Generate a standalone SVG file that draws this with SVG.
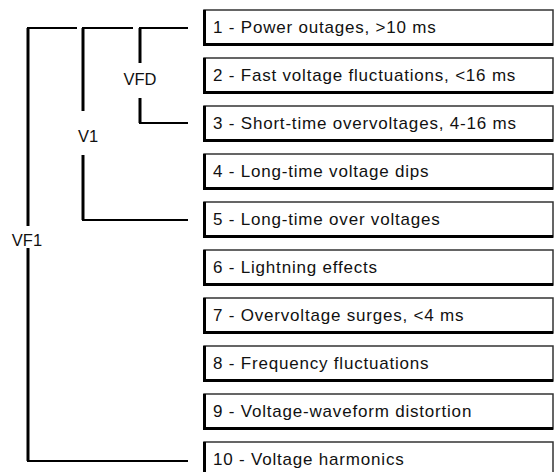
<svg xmlns="http://www.w3.org/2000/svg" width="555" height="472" viewBox="0 0 555 472">
<style>
.box rect{fill:#fff;stroke:#333;stroke-width:1.5}
.box path{fill:none;stroke:#000;stroke-width:3}
.box text{font-family:"Liberation Sans",Arial,sans-serif;font-size:17px;letter-spacing:0.8px;fill:#111}
.lbl{font-family:"Liberation Sans",Arial,sans-serif;font-size:16.5px;fill:#111;text-anchor:middle}
.conn path{fill:none;stroke:#000;stroke-width:3}
.conn path.h{stroke-width:2.2}
</style>
<rect width="555" height="472" fill="#fff"/>
<g class="conn" id="connectors">
<path d="M28,226 V28"/><path d="M28,248 V461"/>
<path class="h" d="M27,28 H77"/><path class="h" d="M27,461 H188"/>
<path d="M83,111 V28"/><path d="M83,155 V220"/>
<path class="h" d="M82,28 H133"/><path class="h" d="M82,220 H188"/>
<path d="M140,63 V28"/><path d="M140,98 V123"/>
<path class="h" d="M139,28 H188"/><path class="h" d="M139,123 H188"/>
</g>
<g id="VF1"><text class="lbl" x="27" y="246">VF1</text></g>
<g id="V1"><text class="lbl" x="88" y="142">V1</text></g>
<g id="VFD"><text class="lbl" x="140" y="85">VFD</text></g>
<g class="box" id="n1"><rect x="204" y="10" width="349" height="35"/><path d="M204.5,10 V46 M203,44.5 H553"/><text x="213" y="33">1 - Power outages, &gt;10 ms</text></g>
<g class="box" id="n2"><rect x="204" y="58" width="349" height="35"/><path d="M204.5,58 V94 M203,92.5 H553"/><text x="213" y="81">2 - Fast voltage fluctuations, &lt;16 ms</text></g>
<g class="box" id="n3"><rect x="204" y="106" width="349" height="35"/><path d="M204.5,106 V142 M203,140.5 H553"/><text x="213" y="129">3 - Short-time overvoltages, 4-16 ms</text></g>
<g class="box" id="n4"><rect x="204" y="154" width="349" height="35"/><path d="M204.5,154 V190 M203,188.5 H553"/><text x="213" y="177">4 - Long-time voltage dips</text></g>
<g class="box" id="n5"><rect x="204" y="202" width="349" height="35"/><path d="M204.5,202 V238 M203,236.5 H553"/><text x="213" y="225">5 - Long-time over voltages</text></g>
<g class="box" id="n6"><rect x="204" y="250" width="349" height="35"/><path d="M204.5,250 V286 M203,284.5 H553"/><text x="213" y="273">6 - Lightning effects</text></g>
<g class="box" id="n7"><rect x="204" y="298" width="349" height="35"/><path d="M204.5,298 V334 M203,332.5 H553"/><text x="213" y="321">7 - Overvoltage surges, &lt;4 ms</text></g>
<g class="box" id="n8"><rect x="204" y="346" width="349" height="35"/><path d="M204.5,346 V382 M203,380.5 H553"/><text x="213" y="369">8 - Frequency fluctuations</text></g>
<g class="box" id="n9"><rect x="204" y="394" width="349" height="35"/><path d="M204.5,394 V430 M203,428.5 H553"/><text x="213" y="417">9 - Voltage-waveform distortion</text></g>
<g class="box" id="n10"><rect x="204" y="442" width="349" height="35"/><path d="M204.5,442 V478 M203,476.5 H553"/><text x="213" y="465">10 - Voltage harmonics</text></g>
</svg>
